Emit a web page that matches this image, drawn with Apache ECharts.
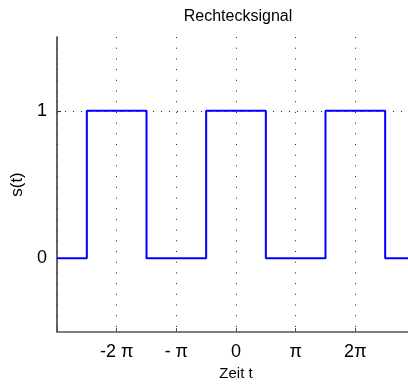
<!DOCTYPE html>
<html>
<head>
<meta charset="utf-8">
<script src="https://cdn.jsdelivr.net/npm/echarts@6/dist/echarts.min.js"></script>
<style>
  html, body { margin: 0; padding: 0; background: #fff; }
  #chart { width: 408px; height: 387px; }
</style>
</head>
<body>
<div id="chart"></div>
<script>
// time in multiples of pi, value of the square wave (step drawn as 'end')
const tPoints = [-3, -2.5, -1.5, -0.5, 0.5, 1.5, 2.5, 3]
const sValues = [0, 1, 0, 1, 0, 1, 0, 0]

const xTickValues = [-3, -2, -1, 0, 1, 2, 3]
const xTickLabels = ['', '-2 π', '- π', '0', 'π', '2π', '']

const font = 'Liberation Sans, Arial, sans-serif'

const chart = echarts.init(document.getElementById('chart'), null, {
  width: 408,
  height: 387,
})

const option = {
  animation: false,
  title: {
    text: 'Rechtecksignal',
    left: 233,
    textAlign: 'center',
    top: 4,
    textStyle: {
      fontFamily: font,
      fontSize: 16,
      fontWeight: 'normal',
      color: '#000',
    },
  },
  grid: {
    left: 57,
    width: 358,
    top: 37,
    height: 295,
    containLabel: false,
    outerBoundsMode: 'none',
  },
  xAxis: {
    type: 'value',
    min: -3,
    max: 3,
    interval: 1,
    name: 'Zeit t',
    nameLocation: 'middle',
    nameGap: 32,
    nameTextStyle: { fontFamily: font, fontSize: 15, color: '#000' },
    axisLine: { onZero: false, lineStyle: { color: '#555', width: 1.5 } },
    axisTick: { inside: true, length: 4, lineStyle: { color: '#555' } },
    axisLabel: {
      fontFamily: font,
      fontSize: 18,
      color: '#000',
      margin: 11,
      formatter: (v) => {
        const i = xTickValues.indexOf(Math.round(v))
        return i >= 0 ? xTickLabels[i] : ''
      },
    },
    splitLine: {
      show: true,
      lineStyle: { color: '#222', type: [1, 9.7], width: 1 },
    },
  },
  yAxis: {
    type: 'value',
    min: -0.5,
    max: 1.5,
    interval: 0.5,
    name: 's(t)',
    nameLocation: 'middle',
    nameGap: 29,
    nameTextStyle: { fontFamily: font, fontSize: 17, color: '#000' },
    axisLine: { show: true, onZero: false, lineStyle: { color: '#333', width: 1.5 } },
    axisTick: {
      show: true,
      inside: true,
      length: 4,
      customValues: [0, 1],
      lineStyle: { color: '#333' },
    },
    axisLabel: {
      fontFamily: font,
      fontSize: 18,
      color: '#000',
      margin: 10,
      formatter: (v) => (Number.isInteger(v) ? String(v) : ''),
    },
    splitLine: {
      show: true,
      lineStyle: {
        color: ['transparent', '#222'],
        type: [1, 7],
        width: 1,
      },
    },
  },
  series: [
    {
      type: 'line',
      step: 'end',
      symbol: 'none',
      data: tPoints.map((t, i) => [t, sValues[i]]),
      lineStyle: { color: '#0000ff', width: 2 },
    },
  ],
}

option && chart.setOption(option)
</script>
</body>
</html>
